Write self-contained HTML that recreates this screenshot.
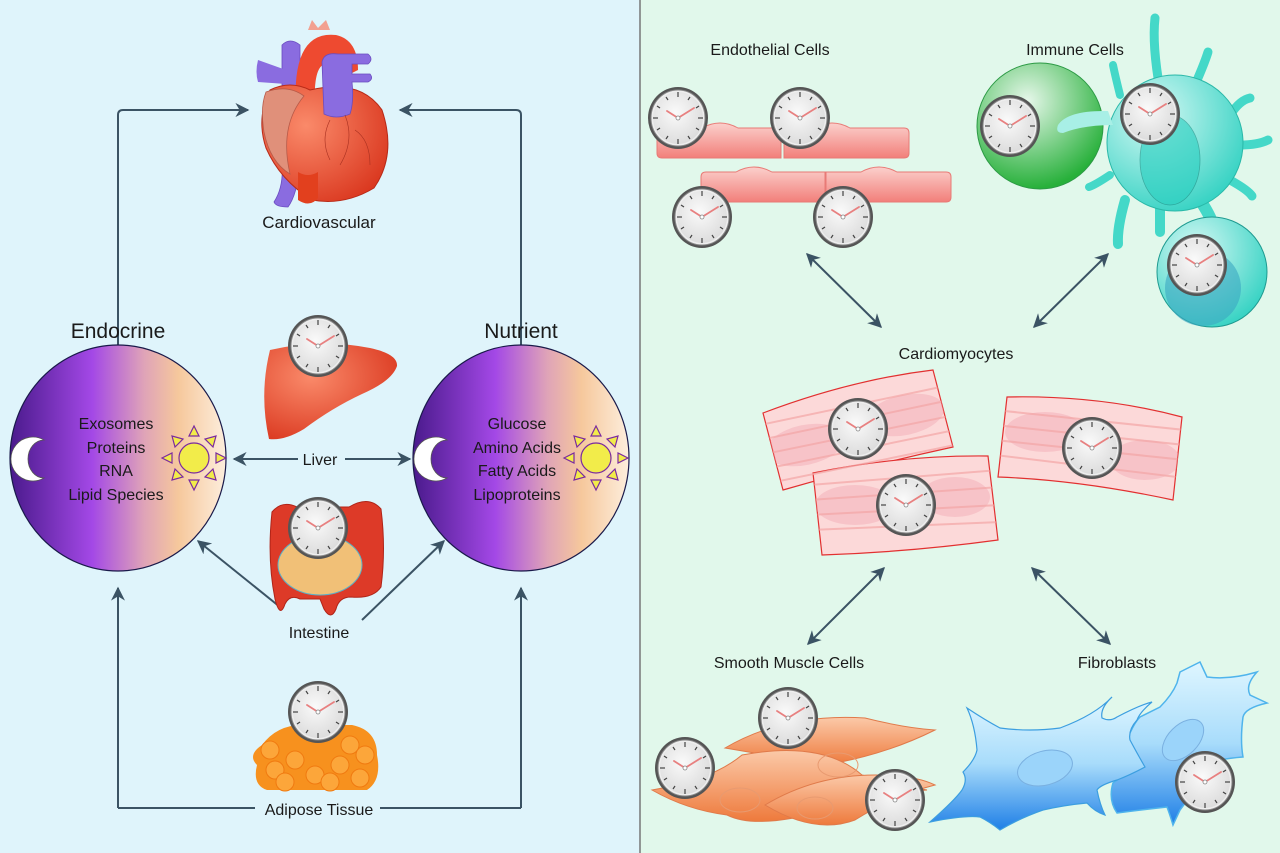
<!DOCTYPE html>
<html><head><meta charset="utf-8"><style>
html,body{margin:0;padding:0;width:1280px;height:853px;overflow:hidden}
svg{display:block}
text{font-family:"Liberation Sans",sans-serif;fill:#1a1a1a}
</style></head><body>
<svg width="1280" height="853" viewBox="0 0 1280 853" xmlns="http://www.w3.org/2000/svg">
<defs>
<linearGradient id="circ" x1="0" x2="1" y1="0" y2="0">
<stop offset="0" stop-color="#4a1a8c"/><stop offset="0.38" stop-color="#a348e6"/><stop offset="0.62" stop-color="#dfa3b8"/><stop offset="0.78" stop-color="#f6c89c"/><stop offset="1" stop-color="#fdeedd"/></linearGradient>
<radialGradient id="face" cx="0.45" cy="0.4" r="0.7"><stop offset="0" stop-color="#fafafa"/><stop offset="1" stop-color="#d8d8d8"/></radialGradient>
<linearGradient id="endo" x1="0" x2="0" y1="0" y2="1"><stop offset="0" stop-color="#fbd0cc"/><stop offset="1" stop-color="#f27f7a"/></linearGradient>
<linearGradient id="blue" x1="0" x2="0" y1="0" y2="1"><stop offset="0" stop-color="#dff6ff"/><stop offset="0.5" stop-color="#a8dcfb"/><stop offset="1" stop-color="#1f7fe6"/></linearGradient>
<linearGradient id="orng" x1="0" x2="0" y1="0" y2="1"><stop offset="0" stop-color="#fbc9a8"/><stop offset="1" stop-color="#ee7a3c"/></linearGradient>
<radialGradient id="grn" cx="0.4" cy="0.3" r="0.7"><stop offset="0" stop-color="#e6f7ea"/><stop offset="1" stop-color="#27b03a"/></radialGradient>
<radialGradient id="teal" cx="0.35" cy="0.3" r="0.8"><stop offset="0" stop-color="#d6f8f4"/><stop offset="1" stop-color="#2bd0c0"/></radialGradient>
<radialGradient id="red" cx="0.35" cy="0.35" r="0.8"><stop offset="0" stop-color="#fa8a6a"/><stop offset="1" stop-color="#d8321a"/></radialGradient>
<clipPath id="c1"><path d="M763,413 Q850,380 933,370 L953,447 Q870,465 783,490 Z"/></clipPath>
<clipPath id="c2"><path d="M1007,397 Q1100,395 1182,417 L1173,500 Q1080,480 998,477 Z"/></clipPath>
<clipPath id="c3"><path d="M813,473 Q900,455 988,456 L998,540 Q910,552 822,555 Z"/></clipPath>
<marker id="ah" viewBox="0 0 10 10" refX="9" refY="5" markerWidth="7" markerHeight="7" orient="auto-start-reverse"><path d="M0,0 L10,5 L0,10 L3,5 z" fill="#3b5364"/></marker>
<g id="clk">
<ellipse cx="0" cy="0" rx="30" ry="31" fill="#555"/>
<ellipse cx="0" cy="0" rx="27" ry="28" fill="#eee" stroke="#888" stroke-width="1"/>
<ellipse cx="0" cy="0" rx="25" ry="26" fill="url(#face)"/>
<g stroke="#444" stroke-width="1.2">
<line x1="0" y1="-26" x2="0" y2="-21"/><line x1="0" y1="26" x2="0" y2="21"/><line x1="-25" y1="0" x2="-20" y2="0"/><line x1="25" y1="0" x2="20" y2="0"/>
<line x1="12" y1="-21" x2="10" y2="-18"/><line x1="-12" y1="-21" x2="-10" y2="-18"/><line x1="12" y1="21" x2="10" y2="18"/><line x1="-12" y1="21" x2="-10" y2="18"/>
<line x1="21" y1="-12" x2="18" y2="-10"/><line x1="-21" y1="-12" x2="-18" y2="-10"/><line x1="21" y1="12" x2="18" y2="10"/><line x1="-21" y1="12" x2="-18" y2="10"/></g>
<path d="M0,0 L-11,-7 M0,0 L16,-10" stroke="#e88080" stroke-width="1.8" stroke-linecap="round"/>
<circle r="2" fill="#fff" stroke="#888" stroke-width="0.8"/>
</g>
<g id="sun">
<g fill="#f2ec4a" stroke="#7a2aa0" stroke-width="1.2">
<path d="M0,-32 L-5,-22 L5,-22z"/><path d="M0,32 L-5,22 L5,22z"/><path d="M-32,0 L-22,-5 L-22,5z"/><path d="M32,0 L22,-5 L22,5z"/>
<path d="M-22,-22 L-19,-11 L-11,-19z"/><path d="M22,-22 L19,-11 L11,-19z"/><path d="M-22,22 L-19,11 L-11,19z"/><path d="M22,22 L19,11 L11,19z"/>
<circle r="15"/></g></g>
</defs>

<rect x="0" y="0" width="640" height="853" fill="#dff4fb"/>
<rect x="640" y="0" width="640" height="853" fill="#e1f8eb"/>
<line x1="640" y1="0" x2="640" y2="853" stroke="#777" stroke-width="1.5"/>

<g stroke="#3b5364" stroke-width="2" fill="none">
<path d="M118,345 V115 Q118,110 123,110 H248" marker-end="url(#ah)"/>
<path d="M521,345 V115 Q521,110 516,110 H400" marker-end="url(#ah)"/>
<path d="M118,808 V588" marker-end="url(#ah)"/>
<path d="M118,808 H255"/>
<path d="M521,808 V588" marker-end="url(#ah)"/>
<path d="M380,808 H521"/>
<path d="M298,459 H234" marker-end="url(#ah)"/>
<path d="M345,459 H410" marker-end="url(#ah)"/>
<path d="M280,607 L198,541" marker-end="url(#ah)"/>
<path d="M362,620 L444,541" marker-end="url(#ah)"/>
</g>

<!-- Heart -->
<g>
<path d="M282,45 q8,-8 18,0 v120 q-3,30 -12,42 q-12,0 -14,-5 q10,-15 8,-40z" fill="#8a6ce0" stroke="#6a4cc0" stroke-width="0.8"/>
<path d="M258,60 l28,10 v14 l-28,-2 q-3,-10 0,-22z" fill="#8a6ce0"/>
<path d="M296,110 q-5,-80 40,-75 q22,5 22,35 l-20,10 q-3,-20 -15,-15 q-10,5 -8,45z" fill="#ee4a30"/>
<path d="M308,30 l4,-10 6,8 8,-8 4,10" fill="#f2a090"/>
<path d="M270,90 q20,-10 40,0 q50,-12 72,20 q15,45 -8,78 q-30,18 -62,12 q-32,-20 -46,-52 q-10,-30 4,-58z" fill="url(#red)" stroke="#b82a18" stroke-width="1"/>
<path d="M266,92 q22,-8 38,4 q-25,30 -14,78 q-20,-12 -26,-42 q-4,-25 2,-40z" fill="#e0907a" stroke="#b85a48" stroke-width="0.8"/>
<path d="M322,62 q2,-10 16,-8 h30 q6,5 0,10 h-16 v10 h18 q4,5 -2,8 h-16 q2,20 -2,32 q-14,6 -26,0z" fill="#8a6ce0" stroke="#6a4cc0" stroke-width="0.8"/>
<path d="M298,172 q10,6 20,0 v26 q-8,10 -20,2z" fill="#e2401e"/>
<path d="M330,120 q-10,20 0,40 M345,115 q10,25 -5,50 M355,130 q15,10 15,35" stroke="#a83020" stroke-width="0.6" fill="none"/>
</g>
<text x="319" y="228" font-size="17" text-anchor="middle">Cardiovascular</text>

<text x="118" y="338" font-size="21" text-anchor="middle">Endocrine</text>
<text x="521" y="338" font-size="21" text-anchor="middle">Nutrient</text>
<ellipse cx="118" cy="458" rx="108" ry="113" fill="url(#circ)" stroke="#1a1a4a" stroke-width="1.2"/>
<ellipse cx="521" cy="458" rx="108" ry="113" fill="url(#circ)" stroke="#1a1a4a" stroke-width="1.2"/>
<path d="M44,440 a22,22 0 1,0 0,38 a16,19 0 1,1 0,-38z" fill="#fff" stroke="#555" stroke-width="0.8"/>
<path d="M447,440 a22,22 0 1,0 0,38 a16,19 0 1,1 0,-38z" fill="#fff" stroke="#555" stroke-width="0.8"/>
<use href="#sun" x="194" y="458"/>
<use href="#sun" x="596" y="458"/>
<g font-size="16" text-anchor="middle" fill="#2a1a3a">
<text x="116" y="429">Exosomes</text><text x="116" y="453">Proteins</text><text x="116" y="476">RNA</text><text x="116" y="500">Lipid Species</text>
<text x="517" y="429">Glucose</text><text x="517" y="453">Amino Acids</text><text x="517" y="476">Fatty Acids</text><text x="517" y="500">Lipoproteins</text>
</g>

<path d="M270,350 q50,-12 100,-2 q28,6 27,18 q-5,15 -35,28 q-30,14 -58,35 q-20,12 -35,10 q-10,-45 1,-89z" fill="url(#red)"/>
<use href="#clk" x="318" y="346"/>
<text x="320" y="465" font-size="16" text-anchor="middle">Liver</text>

<path d="M272,512 q10,-12 25,-5 h52 q20,-12 32,2 q5,40 0,78 q-8,12 -30,10 q-12,0 -15,12 q-5,12 -12,0 l-4,-10 h-20 q-10,-5 -15,5 q-5,15 -10,-5 q-8,-40 -3,-87z" fill="#dd3a28" stroke="#b02418" stroke-width="1"/>
<ellipse cx="320" cy="565" rx="42" ry="30" fill="#f1c077" stroke="#5ab0c8" stroke-width="1"/>
<use href="#clk" x="318" y="528"/>
<text x="319" y="638" font-size="16" text-anchor="middle">Intestine</text>

<path d="M262,745 q15,-20 40,-20 h50 q25,5 25,30 q5,25 -10,35 h-100 q-15,-5 -10,-25 q-10,-10 5,-20z" fill="#f7911e"/>
<g fill="#fca63a" stroke="#f07a10" stroke-width="1"><circle cx="275" cy="770" r="9"/><circle cx="295" cy="760" r="9"/><circle cx="315" cy="775" r="9"/><circle cx="340" cy="765" r="9"/><circle cx="360" cy="778" r="9"/><circle cx="285" cy="782" r="9"/><circle cx="330" cy="782" r="9"/><circle cx="350" cy="745" r="9"/><circle cx="270" cy="750" r="9"/><circle cx="365" cy="755" r="9"/></g>
<use href="#clk" x="318" y="712"/>
<text x="319" y="815" font-size="16" text-anchor="middle">Adipose Tissue</text>

<text x="770" y="55" font-size="16" text-anchor="middle">Endothelial Cells</text>
<text x="1075" y="55" font-size="16" text-anchor="middle">Immune Cells</text>
<text x="956" y="359" font-size="16" text-anchor="middle">Cardiomyocytes</text>
<text x="789" y="668" font-size="16" text-anchor="middle">Smooth Muscle Cells</text>
<text x="1117" y="668" font-size="16" text-anchor="middle">Fibroblasts</text>

<g stroke="#3b5364" stroke-width="2" fill="none">
<path d="M807,254 L881,327" marker-start="url(#ah)" marker-end="url(#ah)"/>
<path d="M1034,327 L1108,254" marker-start="url(#ah)" marker-end="url(#ah)"/>
<path d="M884,568 L808,644" marker-start="url(#ah)" marker-end="url(#ah)"/>
<path d="M1032,568 L1110,644" marker-start="url(#ah)" marker-end="url(#ah)"/>
</g>

<g fill="url(#endo)" stroke="#e87a76" stroke-width="1">
<path d="M662,128 h40 q18,-10 36,0 h43 v30 h-119 q-5,0 -5,-5 v-20 q0,-5 5,-5z"/>
<path d="M784,128 h30 q18,-10 36,0 h54 q5,0 5,5 v20 q0,5 -5,5 h-120z"/>
<path d="M706,172 h30 q18,-10 36,0 h53 v30 h-119 q-5,0 -5,-5 v-20 q0,-5 5,-5z"/>
<path d="M826,172 h35 q18,-10 36,0 h49 q5,0 5,5 v20 q0,5 -5,5 h-120z"/>
</g>
<use href="#clk" x="678" y="118"/>
<use href="#clk" x="800" y="118"/>
<use href="#clk" x="702" y="217"/>
<use href="#clk" x="843" y="217"/>

<!-- Immune -->
<g stroke="#44d8c8" stroke-linecap="round" fill="none">
<path d="M1160,90 Q1152,45 1155,18" stroke-width="9"/>
<path d="M1195,85 Q1205,62 1208,52" stroke-width="9"/>
<path d="M1230,115 Q1240,100 1250,98" stroke-width="9"/>
<path d="M1240,145 Q1258,145 1268,140" stroke-width="9"/>
<path d="M1230,180 Q1248,190 1252,196" stroke-width="9"/>
<path d="M1160,200 Q1160,222 1160,232" stroke-width="10"/>
<path d="M1125,200 Q1117,228 1118,244" stroke-width="10"/>
<path d="M1110,175 Q1095,185 1089,187" stroke-width="8"/>
<path d="M1120,95 Q1115,75 1113,65" stroke-width="8"/>
<path d="M1200,200 Q1210,215 1213,225" stroke-width="12"/>
</g>
<ellipse cx="1175" cy="143" rx="68" ry="68" fill="url(#teal)" stroke="#2ab8a8" stroke-width="1"/>
<ellipse cx="1170" cy="160" rx="30" ry="45" fill="#28cfc0" stroke="#1a8a80" stroke-width="0.8" opacity="0.6"/>
<circle cx="1040" cy="126" r="63" fill="url(#grn)" stroke="#2c9a45" stroke-width="1"/>
<path d="M1058,125 q10,-15 50,-14 l5,14 q-30,0 -50,8 q-8,0 -5,-8z" fill="#a8efe6"/>
<circle cx="1212" cy="272" r="55" fill="url(#teal)" stroke="#1e9a90" stroke-width="1"/>
<circle cx="1203" cy="288" r="38" fill="#3aa6c2" opacity="0.6"/>
<use href="#clk" x="1010" y="126"/>
<use href="#clk" x="1150" y="114"/>
<use href="#clk" x="1197" y="265"/>

<!-- Cardiomyocytes -->
<g fill="#fcd9d9" stroke="#e23030" stroke-width="1.2">
<path d="M763,413 Q850,380 933,370 L953,447 Q870,465 783,490 Z"/>
<path d="M1007,397 Q1100,395 1182,417 L1173,500 Q1080,480 998,477 Z"/>
<path d="M813,473 Q900,455 988,456 L998,540 Q910,552 822,555 Z"/>
</g>
<g fill="#f2aab4" opacity="0.45">
<g clip-path="url(#c1)"><ellipse cx="805" cy="445" rx="40" ry="20" transform="rotate(-12 805 445)"/><ellipse cx="905" cy="415" rx="40" ry="20" transform="rotate(-12 905 415)"/></g>
<g clip-path="url(#c2)"><ellipse cx="1045" cy="432" rx="40" ry="20"/><ellipse cx="1145" cy="460" rx="35" ry="20"/></g>
<g clip-path="url(#c3)"><ellipse cx="855" cy="505" rx="40" ry="20"/><ellipse cx="955" cy="497" rx="35" ry="20"/></g>
</g>
<g stroke="#f4a6a6" stroke-width="2" opacity="0.7">
<g clip-path="url(#c1)"><path d="M760,425 L950,385 M760,440 L950,400 M760,455 L955,415 M760,470 L955,430 M760,485 L955,445"/></g>
<g clip-path="url(#c2)"><path d="M995,410 L1185,430 M995,425 L1185,445 M995,440 L1185,460 M995,455 L1185,478"/></g>
<g clip-path="url(#c3)"><path d="M810,485 L1000,470 M810,500 L1000,487 M810,515 L1000,505 M810,530 L1000,522"/></g>
</g>
<use href="#clk" x="858" y="429"/>
<use href="#clk" x="1092" y="448"/>
<use href="#clk" x="906" y="505"/>

<g fill="url(#orng)" stroke="#e07a4a" stroke-width="1">
<path d="M725,748 q60,-35 140,-30 q40,10 70,12 q-50,25 -110,35 z"/>
<path d="M652,790 q60,-10 90,-35 q80,-15 120,20 q40,10 65,15 q-60,5 -100,20 q-70,20 -100,5 q-40,-5 -75,-25z"/>
<path d="M765,805 q50,-30 110,-30 q40,0 60,10 q-40,10 -80,35 q-40,15 -90,-15z"/>
</g>
<g fill="none" stroke="#e89a70" stroke-width="1"><ellipse cx="838" cy="765" rx="20" ry="12"/><ellipse cx="740" cy="800" rx="20" ry="12"/><ellipse cx="815" cy="808" rx="18" ry="11"/></g>
<use href="#clk" x="788" y="718"/>
<use href="#clk" x="685" y="768"/>
<use href="#clk" x="895" y="800"/>

<path d="M1180,672 L1200,662 L1207,677 Q1230,680 1257,672 Q1245,685 1250,695 L1267,703 Q1245,708 1243,717 Q1240,740 1243,757 Q1230,758 1220,760 Q1195,790 1180,810 L1173,825 Q1170,815 1167,807 Q1140,810 1117,813 Q1108,800 1113,783 Q1125,775 1133,767 Q1125,750 1130,733 Q1135,722 1140,717 Q1150,712 1160,707 Q1172,695 1177,683 Z" fill="url(#blue)" stroke="#4fb4ec" stroke-width="1.5"/>
<path d="M967,708 Q985,720 1000,728 Q1030,732 1060,728 Q1095,715 1112,697 Q1100,708 1102,718 Q1110,722 1117,717 Q1140,705 1152,702 Q1140,712 1137,720 Q1128,730 1130,740 Q1138,755 1145,767 Q1130,775 1117,780 Q1100,785 1097,790 Q1100,805 1105,815 Q1095,812 1087,803 Q1065,805 1043,810 Q1020,818 1000,830 Q990,822 980,817 Q965,815 930,822 Q955,800 962,790 Q968,780 963,772 Q975,760 977,750 Q975,725 967,708 Z" fill="url(#blue)" stroke="#3c9ee0" stroke-width="1.2"/>
<ellipse cx="1045" cy="768" rx="28" ry="17" transform="rotate(-15 1045 768)" fill="#9bd4fa" stroke="#7ab0e0"/>
<ellipse cx="1183" cy="740" rx="25" ry="15" transform="rotate(-45 1183 740)" fill="#9bd4fa" stroke="#7ab0e0"/>
<use href="#clk" x="1205" y="782"/>
</svg>
</body></html>
